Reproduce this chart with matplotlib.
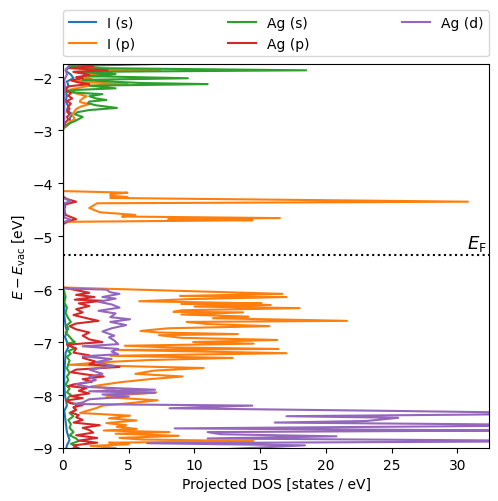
import numpy as np
import matplotlib
matplotlib.use("Agg")
import matplotlib.pyplot as plt

# Projected DOS, energies in eV relative to vacuum.
# Each channel: energies (top -> bottom) and DOS values [states / eV].

E_FERMI = -5.36

labels = ["I (s)", "I (p)", "Ag (s)", "Ag (p)", "Ag (d)"]

# I (s)
i_s_energy = [-1.70, -1.80, -1.88, -1.95, -2.02, -2.08, -2.15, -2.25, -2.35, -2.45,
              -2.55, -2.62, -2.70, -2.78, -2.85, -2.92, -2.97,
              -5.97, -6.10, -6.30, -6.50, -6.70, -6.80, -6.90, -7.00, -7.10,
              -7.20, -7.40, -7.60, -7.80, -8.00, -8.20, -8.30, -8.50, -8.70,
              -8.85, -8.95, -9.05]
i_s_dos = [0.3, 0.5, 0.2, 0.6, 0.8, 0.3, 0.4, 0.2, 0.3, 0.2,
           0.4, 0.3, 0.7, 0.5, 0.6, 0.3, 0.0,
           0.0, 0.05, 0.1, 0.1, 0.2, 0.3, 0.15, 0.3, 0.4,
           0.2, 0.15, 0.1, 0.1, 0.15, 0.3, 0.1, 0.2, 0.3,
           0.5, 0.3, 0.2]

# I (p)
i_p_energy = [-1.70, -1.76, -1.80, -1.84, -1.87, -1.90, -1.94, -1.97, -2.00, -2.04,
              -2.08, -2.11, -2.13, -2.16, -2.20, -2.24, -2.28, -2.32, -2.36, -2.40,
              -2.44, -2.47, -2.51, -2.55, -2.60, -2.64, -2.70, -2.75, -2.79, -2.84,
              -2.89, -2.94, -2.98,
              -4.15, -4.18, -4.21, -4.24, -4.26, -4.28, -4.35, -4.38, -4.47, -4.55,
              -4.60, -4.63, -4.66, -4.68, -4.70, -4.73, -4.76,
              -5.97, -6.09, -6.13, -6.15, -6.19, -6.23, -6.27, -6.28, -6.30, -6.33,
              -6.36, -6.40, -6.43, -6.44, -6.48, -6.52, -6.55, -6.60, -6.62, -6.66,
              -6.70, -6.74, -6.79, -6.82, -6.85, -6.87, -6.92, -6.96, -7.00, -7.03,
              -7.07, -7.10, -7.13, -7.15, -7.21, -7.26, -7.30, -7.34, -7.38, -7.43,
              -7.49, -7.54, -7.60, -7.65, -7.70, -7.76, -7.84, -7.88, -7.92, -7.95,
              -8.00, -8.04, -8.10, -8.16, -8.20, -8.25, -8.30, -8.34, -8.39, -8.44,
              -8.48, -8.53, -8.57, -8.60, -8.64, -8.67, -8.70, -8.73, -8.77, -8.81,
              -8.84, -8.87, -8.90, -8.93, -8.96, -9.00, -9.05]
i_p_dos = [1.5, 2.8, 0.5, 2.5, 7.4, 0.8, 2.0, 3.6, 1.2, 2.2,
           1.0, 3.0, 4.9, 2.0, 1.2, 0.4, 0.6, 1.2, 1.8, 1.5,
           1.3, 1.3, 2.0, 1.4, 1.0, 0.9, 0.7, 0.8, 0.9, 0.5,
           0.4, 0.1, 0.0,
           0.0, 4.9, 3.6, 3.6, 4.9, 3.6, 30.8, 2.6, 2.0, 2.8,
           5.5, 4.5, 16.5, 8.0, 14.4, 0.5, 0.0,
           0.0, 16.7, 8.9, 17.0, 9.5, 5.8, 15.1, 9.0, 15.8, 10.0,
           18.0, 9.0, 8.4, 13.7, 9.0, 14.1, 11.4, 21.6, 9.4, 11.0,
           15.7, 8.0, 5.9, 7.3, 13.3, 7.3, 9.0, 16.3, 9.9, 14.5,
           4.7, 8.0, 16.4, 4.2, 17.0, 3.6, 12.9, 6.5, 3.0, 0.5,
           10.7, 6.9, 5.5, 9.1, 6.6, 4.3, 2.1, 4.0, 3.0, 7.1,
           4.5, 3.3, 7.2, 4.8, 3.0, 2.5, 1.8, 1.3, 5.1, 3.5,
           5.6, 3.3, 4.8, 4.1, 5.6, 3.1, 8.1, 4.0, 8.8, 4.3,
           6.0, 14.5, 3.5, 5.0, 2.1, 4.0, 3.0]

# Ag (s)
ag_s_energy = [-1.70, -1.75, -1.79, -1.83, -1.87, -1.90, -1.94, -1.98, -2.02, -2.05,
               -2.08, -2.11, -2.13, -2.16, -2.21, -2.24, -2.27, -2.30, -2.32, -2.36,
               -2.40, -2.43, -2.46, -2.49, -2.53, -2.58, -2.62, -2.66, -2.70, -2.75,
               -2.79, -2.83, -2.88, -2.92, -2.96, -3.00,
               -5.97, -6.05, -6.15, -6.25, -6.35, -6.45, -6.55, -6.62, -6.68, -6.75,
               -6.82, -6.90, -6.96, -7.00, -7.03, -7.08, -7.12, -7.17, -7.22, -7.28,
               -7.35, -7.42, -7.50, -7.58, -7.65, -7.72, -7.80, -7.88, -7.95, -8.00,
               -8.05, -8.12, -8.19, -8.24, -8.28, -8.34, -8.40, -8.47, -8.55, -8.62,
               -8.70, -8.76, -8.82, -8.87, -8.92, -8.97, -9.05]
ag_s_dos = [2.0, 7.2, 0.5, 3.0, 18.5, 1.0, 4.0, 2.0, 9.5, 1.5,
            3.3, 6.0, 11.0, 2.0, 4.0, 1.0, 0.1, 1.5, 3.0, 2.0,
            2.5, 3.3, 2.0, 1.9, 2.5, 4.1, 2.0, 1.1, 0.9, 1.5,
            1.2, 0.9, 0.4, 0.15, 0.05, 0.0,
            0.0, 0.1, 0.2, 0.1, 0.3, 0.2, 0.4, 0.6, 0.3, 0.4,
            0.2, 0.5, 0.7, 0.9, 0.3, 0.6, 0.9, 0.4, 0.6, 0.3,
            0.5, 0.4, 0.3, 0.5, 0.3, 0.4, 0.2, 0.5, 0.3, 0.6,
            0.4, 0.3, 1.1, 0.8, 1.0, 0.5, 0.8, 0.4, 0.6, 0.5,
            0.8, 0.5, 1.0, 1.2, 0.6, 1.0, 0.5]

# Ag (p)
ag_p_energy = [-1.70, -1.76, -1.79, -1.83, -1.87, -1.90, -1.93, -1.96, -2.00, -2.02,
               -2.06, -2.10, -2.13, -2.17, -2.21, -2.26, -2.30, -2.35, -2.40, -2.45,
               -2.50, -2.55, -2.60, -2.65, -2.70, -2.75, -2.80, -2.85, -2.90, -2.95,
               -4.25, -4.30, -4.35, -4.40, -4.50, -4.60, -4.68, -4.72, -4.78,
               -5.97, -6.02, -6.07, -6.11, -6.15, -6.20, -6.22, -6.27, -6.32, -6.38,
               -6.44, -6.49, -6.55, -6.60, -6.65, -6.70, -6.76, -6.82, -6.88, -6.95,
               -7.00, -7.05, -7.12, -7.20, -7.25, -7.30, -7.37, -7.42, -7.47, -7.52,
               -7.57, -7.62, -7.65, -7.70, -7.75, -7.80, -7.83, -7.87, -7.92, -7.97,
               -8.02, -8.06, -8.10, -8.15, -8.19, -8.23, -8.28, -8.33, -8.38, -8.42,
               -8.47, -8.52, -8.57, -8.62, -8.66, -8.71, -8.76, -8.81, -8.86, -8.90,
               -8.95, -9.05]
ag_p_dos = [0.5, 1.5, 2.3, 0.5, 3.4, 0.8, 1.5, 2.0, 1.0, 1.5,
            0.6, 1.2, 2.0, 0.5, 0.2, 0.3, 0.6, 0.4, 0.7, 0.3,
            0.6, 0.4, 0.5, 0.3, 0.5, 0.3, 0.4, 0.2, 0.1, 0.0,
            0.0, 0.3, 1.0, 0.2, 0.1, 0.2, 1.0, 0.3, 0.0,
            0.0, 1.0, 2.0, 1.0, 2.4, 0.9, 3.0, 1.2, 2.0, 1.0,
            1.5, 0.8, 1.8, 2.7, 1.0, 0.5, 1.0, 2.0, 1.5, 2.0,
            3.0, 0.3, 1.0, 0.8, 2.0, 1.5, 2.5, 2.0, 4.3, 1.0,
            0.6, 2.0, 3.1, 1.5, 2.2, 0.8, 0.4, 1.8, 1.2, 2.0,
            0.6, 1.5, 0.3, 0.5, 1.5, 0.8, 1.0, 0.6, 1.2, 1.0,
            1.5, 0.8, 2.8, 1.5, 2.0, 2.3, 1.0, 2.6, 1.2, 2.6,
            0.8, 1.5]

# Ag (d)
ag_d_energy = [-1.70, -1.78, -1.85, -1.95, -2.05, -2.20, -2.40, -2.60, -2.80, -2.95,
               -4.28, -4.34, -4.38, -4.65, -4.69, -4.74,
               -5.95, -5.99, -6.01, -6.06, -6.09, -6.15, -6.18, -6.24, -6.29, -6.35,
               -6.41, -6.46, -6.53, -6.57, -6.62, -6.68, -6.74, -6.80, -6.88, -6.91,
               -6.97, -7.04, -7.08, -7.13, -7.18, -7.23, -7.27, -7.32, -7.38, -7.45,
               -7.52, -7.60, -7.66, -7.72, -7.80, -7.85, -7.90, -7.93, -7.96, -7.99,
               -8.03, -8.08, -8.14, -8.17, -8.20, -8.25, -8.30, -8.35, -8.40, -8.43,
               -8.49, -8.52, -8.57, -8.63, -8.67, -8.70, -8.74, -8.78, -8.82, -8.87,
               -8.91, -8.95, -9.05]
ag_d_dos = [0.3, 0.5, 0.2, 0.3, 0.1, 0.15, 0.1, 0.1, 0.1, 0.0,
            0.0, 0.6, 0.1, 0.1, 0.6, 0.0,
            0.0, 0.0, 3.3, 3.6, 4.3, 3.0, 4.0, 2.7, 3.7, 4.3,
            2.7, 4.0, 3.6, 5.1, 3.6, 4.8, 3.7, 3.0, 3.9, 3.5,
            3.9, 4.2, 1.5, 4.2, 3.7, 4.2, 1.5, 3.7, 2.5, 3.9,
            2.0, 3.0, 2.0, 2.5, 1.0, 2.0, 7.0, 2.0, 7.0, 3.0,
            5.0, 2.0, 1.5, 0.8, 14.4, 8.1, 25.1, 40.0, 17.0, 25.5,
            23.1, 16.1, 40.0, 8.5, 34.0, 11.0, 12.0, 20.8, 11.0, 40.0,
            6.4, 18.4, 10.0]

channels = [
    (i_s_energy, i_s_dos),
    (i_p_energy, i_p_dos),
    (ag_s_energy, ag_s_dos),
    (ag_p_energy, ag_p_dos),
    (ag_d_energy, ag_d_dos),
]
colors = ["C0", "C1", "C2", "C3", "C4"]


def main() -> None:
    fig = plt.figure(figsize=(4.98, 5.02), dpi=100)
    ax = fig.add_axes([0.1265, 0.1056, 0.8555, 0.765])

    for (energy, dos), label, color in zip(channels, labels, colors):
        ax.plot(np.array(dos), np.array(energy), color=color, label=label, linewidth=1.5)

    ax.axhline(E_FERMI, color="k", linestyle=":", linewidth=1.5)
    ax.text(32.2, E_FERMI + 0.05, r"$E_\mathrm{F}$", ha="right", va="bottom", fontsize=13)

    ax.set_xlim(0, 32.4)
    ax.set_ylim(-9, -1.75)
    ax.set_xlabel("Projected DOS [states / eV]")
    ax.set_ylabel(r"$E - E_\mathrm{vac}$ [eV]")

    ax.legend(bbox_to_anchor=(0.0, 1.02, 1.0, 0.102), loc="lower left",
              ncol=3, mode="expand", borderaxespad=0.0)

    fig.savefig("out.png", dpi=100)
    plt.close(fig)


if __name__ == "__main__":
    main()
